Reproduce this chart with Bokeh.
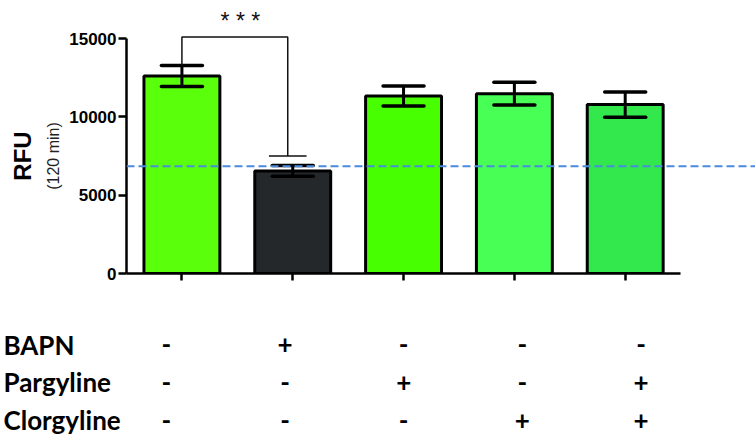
import math
from bokeh.plotting import figure
from bokeh.models import Range1d, LinearAxis, FixedTicker, Span, CustomJSTickFormatter
from bokeh.layouts import column, row
from bokeh.core.properties import value
from bokeh.embed import file_html
from bokeh.resources import INLINE

# ---- data ----
groups = [0, 1, 2, 3, 4]
means = [12600, 6550, 11330, 11480, 10780]
sems = [670, 350, 640, 725, 800]
bar_colors = ["#5AFF0C", "#25282A", "#47FF00", "#47FF55", "#33E84D"]
y_ticks = [0, 5000, 10000, 15000]
baseline_value = 6850
bracket_top = 15100
bracket_right_end = 7500
sig_text = "* * *"
y_title = "RFU"
y_subtitle = "(120 min)"

treatments = ["BAPN", "Pargyline", "Clorgyline"]
bapn = ["-", "+", "-", "-", "-"]
pargyline = ["-", "-", "+", "-", "+"]
clorgyline = ["-", "-", "-", "+", "+"]

W = 755
LW = 66           # width of the y-title strip
CH = 283          # chart height
yr = Range1d(0, 17426)

# ---- y-title strip (shares the chart's y scale) ----
lab = figure(width=LW, height=CH, output_backend="svg", toolbar_location=None,
             x_range=Range1d(0, LW), y_range=yr, x_axis_type=None, y_axis_type=None,
             min_border_left=0, min_border_right=0, min_border_top=0, min_border_bottom=10)
lab.outline_line_color = None
lab.frame_align = False
mid = (y_ticks[0] + y_ticks[-1]) / 2
lab.text(x=[22], y=[mid], text=[y_title], angle=math.pi / 2,
         text_font=value("Liberation Sans"), text_font_style="bold", text_font_size="24px",
         text_align="center", text_baseline="middle", text_color="black")
lab.text(x=[53], y=[mid], text=[y_subtitle], angle=math.pi / 2,
         text_font=value("Liberation Sans"), text_font_size="16px",
         text_align="center", text_baseline="middle", text_color="#222222")

# ---- chart ----
p = figure(width=W - LW, height=CH, output_backend="svg", toolbar_location=None,
           x_range=Range1d(-0.5, 5.1757), y_range=yr,
           x_axis_type=None, y_axis_type=None,
           min_border_left=125 - LW, min_border_right=0, min_border_top=0, min_border_bottom=10)
p.outline_line_color = None
p.background_fill_color = "white"
p.frame_align = False

yaxis = LinearAxis(bounds=(0, 15000), ticker=FixedTicker(ticks=y_ticks))
yaxis.axis_line_width = 2.5
yaxis.major_tick_line_width = 2.5
yaxis.major_tick_out = 8
yaxis.major_tick_in = 0
yaxis.minor_tick_out = 0
yaxis.minor_tick_in = 0
yaxis.major_label_standoff = 2
yaxis.major_label_text_font = "Liberation Sans"
yaxis.major_label_text_font_style = "bold"
yaxis.major_label_text_font_size = "17px"
yaxis.major_label_text_color = "black"
p.add_layout(yaxis, "left")

xaxis = LinearAxis(bounds=(-0.5, 4.5), ticker=FixedTicker(ticks=groups),
                   formatter=CustomJSTickFormatter(code="return ''"))
xaxis.axis_line_width = 2.5
xaxis.major_tick_line_width = 2.5
xaxis.major_tick_out = 7
xaxis.major_tick_in = 0
xaxis.minor_tick_out = 0
xaxis.minor_tick_in = 0
xaxis.major_label_standoff = 0
p.add_layout(xaxis, "below")

p.vbar(x=groups, top=means, width=0.685, fill_color=bar_colors,
       line_color="black", line_width=3)

lo = [m - s for m, s in zip(means, sems)]
hi = [m + s for m, s in zip(means, sems)]
cap = 0.185
p.segment(x0=groups, y0=lo, x1=groups, y1=hi, line_color="black", line_width=3)
p.segment(x0=[g - cap for g in groups], y0=hi, x1=[g + cap for g in groups], y1=hi,
          line_color="black", line_width=3.5, line_cap="round")
p.segment(x0=[g - cap for g in groups], y0=lo, x1=[g + cap for g in groups], y1=lo,
          line_color="black", line_width=3.5, line_cap="round")

# significance bracket between group 0 and group 1
bx_right = groups[1] - 0.045
p.line(x=[groups[0], groups[0], bx_right, bx_right],
       y=[hi[0], bracket_top, bracket_top, bracket_right_end],
       line_color="#111111", line_width=1.5)
p.segment(x0=[bx_right - 0.17], y0=[bracket_right_end], x1=[bx_right + 0.17],
          y1=[bracket_right_end], line_color="#111111", line_width=1.5)
p.text(x=[(groups[0] + bx_right) / 2 + 0.05], y=[bracket_top + 1000], text=[sig_text],
       text_font=value("Liberation Sans"), text_font_size="23px",
       text_align="center", text_baseline="alphabetic", text_color="#111111")

p.add_layout(Span(location=baseline_value, dimension="width", line_color="#4A8AE0",
                  line_width=2, line_dash="8 4"))

# ---- treatment table ----
x0, x1 = -1.3968, 4.9638
t = figure(width=W, height=437 - CH, output_backend="svg", toolbar_location=None,
           x_range=Range1d(x0, x1), y_range=Range1d(2.4474, -1.6053),
           x_axis_type=None, y_axis_type=None, min_border=0)
t.outline_line_color = None
t.frame_align = False

rows = [bapn, pargyline, clorgyline]
xs, ys, txt = [], [], []
for r, row_vals in enumerate(rows):
    for g, s in zip(groups, row_vals):
        xs.append(g)
        ys.append(r)
        txt.append(s)
t.text(x=xs, y=ys, text=txt, text_font=value("Lato"), text_font_style="bold",
       text_font_size="26px", text_align="center", text_baseline="alphabetic",
       text_color="black")
t.text(x=[x0 + 0.025] * 3, y=list(range(len(treatments))), text=treatments,
       text_font=value("Lato"), text_font_style="bold", text_font_size="26px",
       text_align="left", text_baseline="alphabetic", text_color="black")

layout = column(row(lab, p, spacing=0), t, spacing=0)
open("out.html", "w").write(file_html(layout, INLINE))
